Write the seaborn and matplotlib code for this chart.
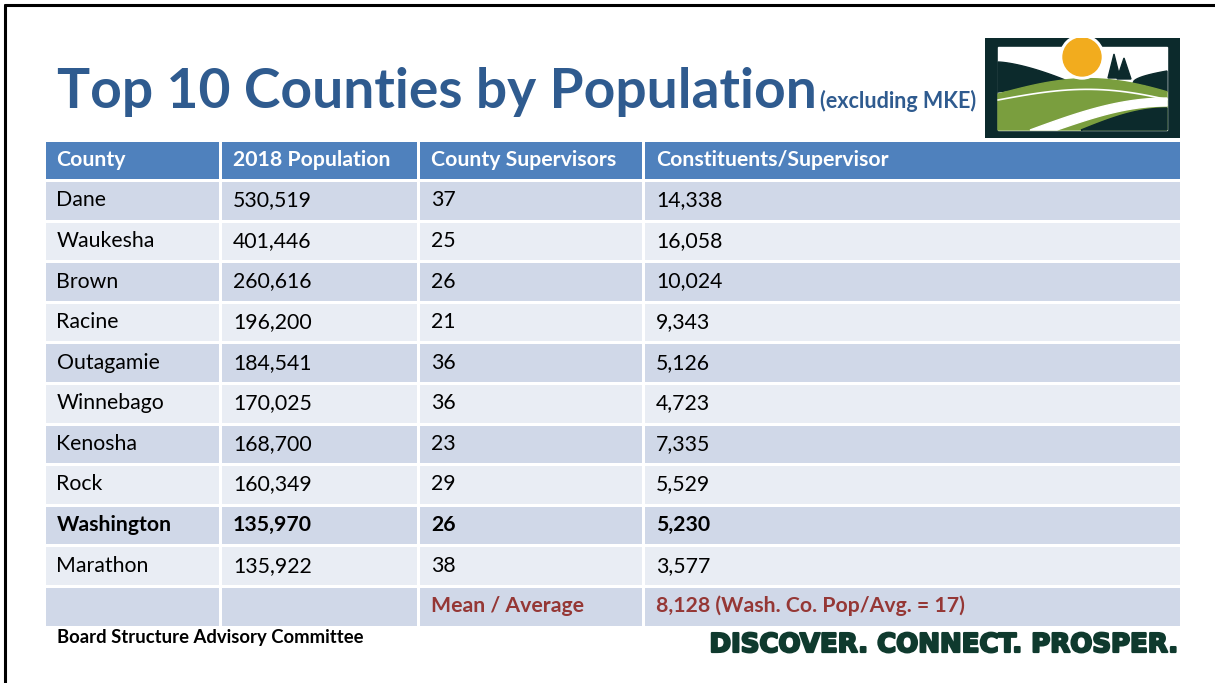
import numpy as np
import matplotlib
matplotlib.use("Agg")
import matplotlib.pyplot as plt
import matplotlib.patheffects as pe
from matplotlib.colors import ListedColormap
from matplotlib.patches import Rectangle, Circle, Polygon
import seaborn as sns

# ---- data ----
columns = ["County", "2018 Population", "County Supervisors", "Constituents/Supervisor"]
counties = ["Dane", "Waukesha", "Brown", "Racine", "Outagamie",
            "Winnebago", "Kenosha", "Rock", "Washington", "Marathon"]
population = [530519, 401446, 260616, 196200, 184541,
              170025, 168700, 160349, 135970, 135922]
supervisors = [37, 25, 26, 21, 36, 36, 23, 29, 26, 38]
per_supervisor = [14338, 16058, 10024, 9343, 5126, 4723, 7335, 5529, 5230, 3577]
mean_label = "Mean / Average"
mean_text = "8,128 (Wash. Co. Pop/Avg. = 17)"
highlight = "Washington"

sns.set_theme(style="white")
plt.rcParams["font.family"] = ["Lato", "DejaVu Sans"]

W, H = 1215, 683
fig = plt.figure(figsize=(W / 100, H / 100), dpi=100)
fig.patch.set_facecolor("white")

def px_axes(x0, y0, x1, y1):
    return fig.add_axes([x0 / W, 1 - y1 / H, (x1 - x0) / W, (y1 - y0) / H])

# slide border (top + left)
fig.add_artist(plt.Line2D([5 / W, 5 / W], [0, 1 - 5 / H], color="black", lw=2.2))
fig.add_artist(plt.Line2D([5 / W, 1], [1 - 5 / H, 1 - 5 / H], color="black", lw=2.2))

# ---- table: one seaborn heatmap per column ----
header_c, dark_c, light_c = "#4F81BD", "#D0D8E8", "#E9EDF4"
cmap = ListedColormap([header_c, dark_c, light_c])
n_rows = len(counties) + 2
shade = np.array([0] + [1 + (i % 2) for i in range(n_rows - 1)]).reshape(-1, 1)

# column boundaries in px (axes abut; heatmap lines give the white gaps)
col_x = [43.5, 220, 418, 643, 1180.5]
top, bottom = 139.5, 626.5

cells = [
    counties + [""],
    [f"{v:,}" for v in population] + [""],
    [str(v) for v in supervisors] + [mean_label],
    [f"{v:,}" for v in per_supervisor] + [mean_text],
]

fs = 15.3
for c in range(len(columns)):
    ax = px_axes(col_x[c], top, col_x[c + 1], bottom)
    sns.heatmap(shade, ax=ax, cmap=cmap, vmin=-0.5, vmax=2.5, cbar=False,
                linewidths=2.0, linecolor="white",
                xticklabels=False, yticklabels=False)
    ax.set_xlim(0, 1)
    ax.set_ylim(n_rows, 0)
    ax.annotate(columns[c], xy=(0, 0.5), xytext=(13, 0), textcoords="offset pixels",
                va="center", ha="left", color="white", fontsize=fs, fontweight="bold")
    for r, txt in enumerate(cells[c]):
        bold = r < len(counties) and counties[r] == highlight
        is_mean = r == len(counties)
        ax.annotate(txt, xy=(0, r + 1.5), xytext=(13, 0), textcoords="offset pixels",
                    va="center", ha="left", fontsize=fs,
                    color="#953735" if is_mean else "black",
                    fontweight="bold" if (bold or is_mean) else "normal")

# ---- title ----
title_color = "#2F5B8F"
title = fig.text(57 / W, 1 - 108 / H, "Top 10 Counties by Population", fontsize=39.7,
                 fontweight="bold", color=title_color, va="baseline", ha="left")
fig.canvas.draw()
bb = title.get_window_extent()
fig.text((bb.x1 + 3) / W, 1 - 108 / H, "(excluding MKE)", fontsize=15.5,
         fontweight="bold", color=title_color, va="baseline", ha="left")

# ---- footer ----
fig.text(57 / W, 1 - 637 / H, "Board Structure Advisory Committee", fontsize=13.3,
         fontweight="bold", color="black", va="center", ha="left")
slogan = fig.text(1178 / W, 1 - 652 / H, "DISCOVER. CONNECT. PROSPER.", fontsize=23,
                  fontweight="bold", family=["Liberation Sans Narrow", "DejaVu Sans"],
                  color="#0F3A2E", va="baseline", ha="right",
                  path_effects=[pe.withStroke(linewidth=1.6, foreground="#0F3A2E")])
fig.canvas.draw()
sw = slogan.get_window_extent().width
slogan.set_fontsize(23 * 469 / sw)

# ---- logo ----
lg = px_axes(985, 38, 1180, 138)
lg.set_xlim(0, 195)
lg.set_ylim(100, 0)
lg.axis("off")
dark = "#0C2A2C"
lg.add_patch(Rectangle((0, 0), 195, 100, color=dark))
lg.add_patch(Rectangle((13, 9), 169, 83, color="white"))
t = np.linspace(0, 1, 30)
# left hill
hill_top = np.column_stack([13 + 72 * t, 24 + 20 * t ** 1.5])
hill_bot = np.column_stack([85 - 72 * t, 44 + 10 * t])
lg.add_patch(Polygon(np.vstack([hill_top, hill_bot]), color=dark))
# right hill
rh_top = np.column_stack([148 + 34 * t, 45 - 12 * np.sqrt(t)])
lg.add_patch(Polygon(np.vstack([rh_top, [[182, 54], [160, 47]]]), color=dark))
# trees
lg.add_patch(Polygon([[123, 40], [129, 16], [135, 40]], color=dark))
lg.add_patch(Polygon([[132, 41], [139, 20], [146, 41]], color=dark))
# green field
field_top = np.column_stack([13 + 169 * t, 56 - 17 * np.sin(np.pi * t * 0.9) + 3 * t])
lg.add_patch(Polygon(np.vstack([field_top, [[182, 92], [13, 92]]]), color="#7A9E3E"))
stripe = np.column_stack([13 + 169 * t, 62 - 14 * np.sin(np.pi * t * 0.85) + 6 * t])
lg.plot(stripe[:, 0], stripe[:, 1], color="white", lw=1.2)
# dark bottom-right
br_top = np.column_stack([96 + 86 * t, 92 - 22 * np.sin(np.pi / 2 * t)])
lg.add_patch(Polygon(np.vstack([br_top, [[182, 92]]]), color=dark))
# white road
road_a = np.column_stack([45 + 137 * t, 92 - 32 * np.sin(np.pi / 2 * t)])
road_b = np.column_stack([182 - 110 * t, 68 + 24 * (1 - np.cos(np.pi / 2 * t))])
lg.add_patch(Polygon(np.vstack([road_a, road_b]), color="white"))
# sun
lg.add_patch(Circle((97, 19), 22, color="white"))
lg.add_patch(Circle((97, 19), 19, color="#F2AC1E"))

fig.savefig("out.png", dpi=100)
